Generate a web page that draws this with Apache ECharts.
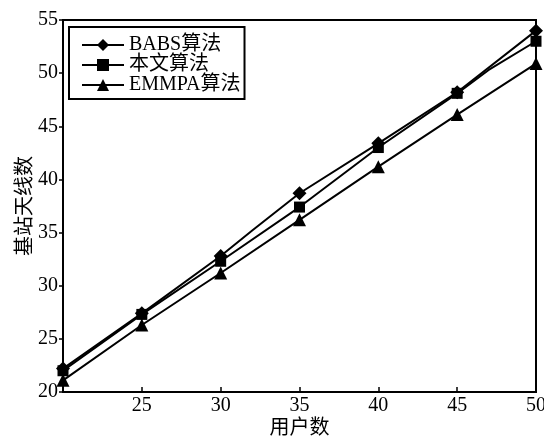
<!DOCTYPE html>
<html>
<head>
<meta charset="utf-8">
<script src="https://cdn.jsdelivr.net/npm/echarts@6/dist/echarts.min.js"></script>
<style>html,body{margin:0;padding:0;background:#fff}#c{width:544px;height:437px}</style>
</head>
<body>
<div id="c"></div>
<script>
const users = [20, 25, 30, 35, 40, 45, 50];
const babs = [22.2, 27.4, 32.8, 38.7, 43.4, 48.2, 54.0];
const ours = [22.0, 27.3, 32.3, 37.4, 43.0, 48.1, 53.0];
const emmpa = [21.1, 26.3, 31.2, 36.2, 41.2, 46.1, 50.9];
// unmarked line vertices
const babsExtra = [[32, 35.2]];
const oursExtra = [[47, 50.3]];
const seriesNames = ['BABS算法', '本文算法', 'EMMPA算法'];
const xTicks = [20, 25, 30, 35, 40, 45, 50];
const yTicks = [20, 25, 30, 35, 40, 45, 50, 55];

function build(vals, extra) {
  const pts = users.map((u, i) => ({ value: [u, vals[i]] }));
  extra.forEach(p => pts.push({ value: p, symbol: 'none' }));
  pts.sort((a, b) => a.value[0] - b.value[0]);
  return pts;
}

const font = '"Liberation Serif", "Times New Roman", "Noto Sans CJK SC", serif';
const chart = echarts.init(document.getElementById('c'));
const lineStyle = { color: '#000', width: 2 };
chart.setOption({
  animation: false,
  backgroundColor: '#fff',
  grid: { left: 63, right: 8, top: 20, bottom: 45, outerBoundsMode: 'none', containLabel: false,
    show: true, borderColor: '#000', borderWidth: 2, backgroundColor: 'transparent' },
  legend: {
    orient: 'vertical', left: 69, top: 27,
    data: seriesNames,
    itemWidth: 42, itemHeight: 15, itemGap: 0,
    padding: [8, 4, 4, 12],
    borderColor: '#000', borderWidth: 2,
    textStyle: { fontFamily: font, fontSize: 20, lineHeight: 20, color: '#000' }
  },
  xAxis: {
    type: 'value', min: xTicks[0], max: xTicks[xTicks.length - 1], interval: 5,
    name: '用户数', nameLocation: 'middle', nameGap: 27, nameMoveOverlap: false,
    nameTextStyle: { fontFamily: font, fontSize: 20, color: '#000' },
    axisLine: { lineStyle: { color: '#000', width: 2 } },
    axisTick: { inside: true, length: 5, lineStyle: { color: '#000', width: 1.5 } },
    axisLabel: { fontFamily: font, fontSize: 20, color: '#000', margin: 4, showMinLabel: false,
      formatter: v => (xTicks.indexOf(v) > 0 ? String(v) : '') },
    splitLine: { show: false }
  },
  yAxis: {
    type: 'value', min: yTicks[0], max: yTicks[yTicks.length - 1], interval: 5,
    name: '基站天线数', nameLocation: 'middle', nameGap: 27, nameMoveOverlap: false,
    nameTextStyle: { fontFamily: font, fontSize: 20, color: '#000' },
    axisLine: { lineStyle: { color: '#000', width: 2 } },
    axisTick: { inside: false, length: 4, lineStyle: { color: '#000', width: 1.5 } },
    axisLabel: { fontFamily: font, fontSize: 20, color: '#000', margin: 5 },
    splitLine: { show: false }
  },
  series: [
    { name: seriesNames[0], type: 'line', data: build(babs, babsExtra), symbol: 'diamond', symbolSize: 14,
      lineStyle: lineStyle, itemStyle: { color: '#000' }, z: 3 },
    { name: seriesNames[1], type: 'line', data: build(ours, oursExtra), symbol: 'rect', symbolSize: 11,
      lineStyle: lineStyle, itemStyle: { color: '#000' }, z: 4 },
    { name: seriesNames[2], type: 'line', data: build(emmpa, []), symbol: 'triangle', symbolSize: 13,
      lineStyle: lineStyle, itemStyle: { color: '#000' }, z: 2 }
  ]
});
</script>
</body>
</html>
